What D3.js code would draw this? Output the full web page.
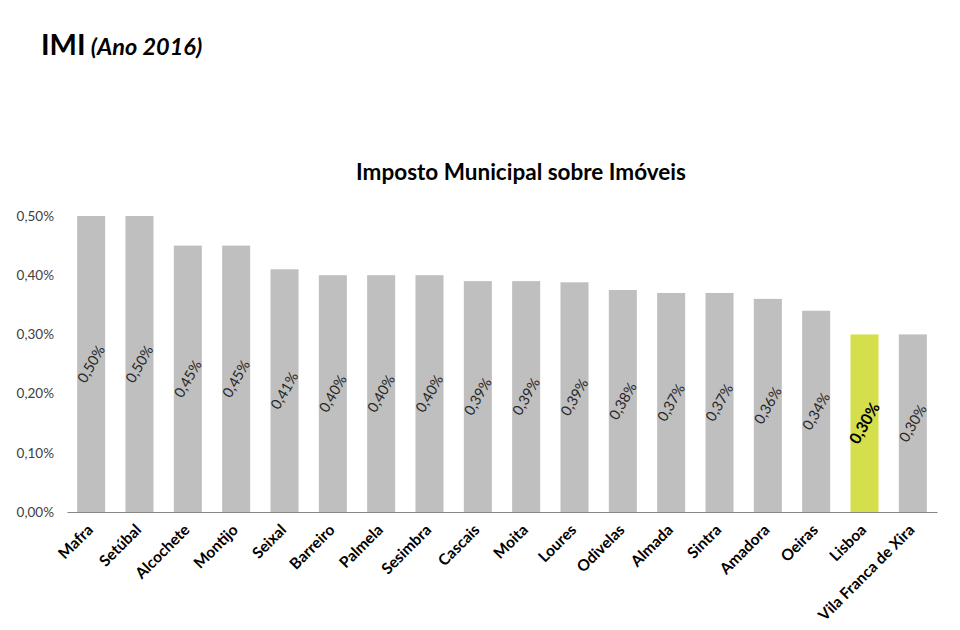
<!DOCTYPE html>
<html>
<head>
<meta charset="utf-8">
<script src="https://cdn.jsdelivr.net/npm/d3@7"></script>
<style>
  body { margin: 0; background: #fff; }
  text { font-family: Lato, "Open Sans", sans-serif; }
</style>
</head>
<body>
<div id="chart"></div>
<script>
const MUNICIPIOS = ["Mafra", "Setúbal", "Alcochete", "Montijo", "Seixal", "Barreiro", "Palmela", "Sesimbra", "Cascais", "Moita", "Loures", "Odivelas", "Almada", "Sintra", "Amadora", "Oeiras", "Lisboa", "Vila Franca de Xira"];
const TAXAS = [0.50, 0.50, 0.45, 0.45, 0.41, 0.40, 0.40, 0.40, 0.39, 0.39, 0.388, 0.375, 0.37, 0.37, 0.36, 0.34, 0.30, 0.30];
const Y_TICKS = [0, 0.1, 0.2, 0.3, 0.4, 0.5];
const DESTAQUE = "Lisboa";

var width = 960, height = 630;
var margin = {left: 67, right: 23, top: 216, bottom: 118};

var svg = d3.select("#chart")
  .append("svg")
  .attr("width", width)
  .attr("height", height);

var fmt = function(v) { return d3.format(".2f")(v).replace(".", ",") + "%"; };

// titles
var t = svg.append("text")
  .attr("x", 41)
  .attr("y", 55)
  .style("fill", "#000");
t.append("tspan").text("IMI").style("font-size", "29px").style("font-weight", "bold");
t.append("tspan").text(" (Ano 2016)").style("font-size", "23.5px").style("font-weight", "bold").style("font-style", "italic");

svg.append("text")
  .attr("x", 521)
  .attr("y", 180)
  .attr("text-anchor", "middle")
  .style("font-size", "22.5px")
  .style("font-weight", "bold")
  .style("fill", "#000")
  .text("Imposto Municipal sobre Imóveis");

var x = d3.scaleBand()
  .domain(MUNICIPIOS)
  .range([margin.left, width - margin.right])
  .paddingInner(0.42)
  .paddingOuter(0.21);

var y = d3.scaleLinear()
  .domain([0, 0.5])
  .range([height - margin.bottom, margin.top]);

// y axis labels
var yAxis = svg.append("g")
  .attr("transform", "translate(" + (margin.left - 13) + ",0)")
  .call(d3.axisLeft(y).tickValues(Y_TICKS).tickSize(0).tickFormat(fmt));
yAxis.select(".domain").remove();
yAxis.selectAll("text")
  .attr("x", 0)
  .style("font-family", "Lato, 'Open Sans', sans-serif")
  .style("font-size", "13.5px")
  .style("fill", "#404040");

// bars
svg.append("g").selectAll("rect")
  .data(MUNICIPIOS)
  .enter()
  .append("rect")
  .attr("x", function(d) { return x(d); })
  .attr("y", function(d, i) { return y(TAXAS[i]); })
  .attr("width", x.bandwidth())
  .attr("height", function(d, i) { return y(0) - y(TAXAS[i]); })
  .attr("fill", function(d) { return d == DESTAQUE ? "#d5df4b" : "#bfbfbf"; });

// value labels
svg.append("g").selectAll("text")
  .data(MUNICIPIOS)
  .enter()
  .append("text")
  .attr("transform", function(d, i) {
    var cx = x(d) + x.bandwidth() / 2;
    var cy = (y(0) + y(TAXAS[i])) / 2;
    return "translate(" + cx + "," + cy + ") rotate(-60)";
  })
  .attr("text-anchor", "middle")
  .attr("dy", "0.35em")
  .style("font-size", function(d) { return d == DESTAQUE ? "16px" : "14.5px"; })
  .style("font-weight", function(d) { return d == DESTAQUE ? "bold" : "normal"; })
  .style("fill", function(d) { return d == DESTAQUE ? "#000" : "#262626"; })
  .text(function(d, i) { return fmt(TAXAS[i]); });

// x axis
var xAxis = svg.append("g")
  .attr("transform", "translate(0," + y(0) + ")")
  .call(d3.axisBottom(x).tickSize(0).tickSizeOuter(0));
xAxis.select(".domain").attr("stroke", "#868686");
xAxis.selectAll("text")
  .attr("transform", "translate(-1,15) rotate(-45)")
  .attr("text-anchor", "end")
  .attr("dy", "0.35em")
  .attr("y", 0)
  .style("font-family", "Lato, 'Open Sans', sans-serif")
  .style("font-size", "15.5px")
  .style("font-weight", "bold")
  .style("fill", "#000");
</script>
</body>
</html>
